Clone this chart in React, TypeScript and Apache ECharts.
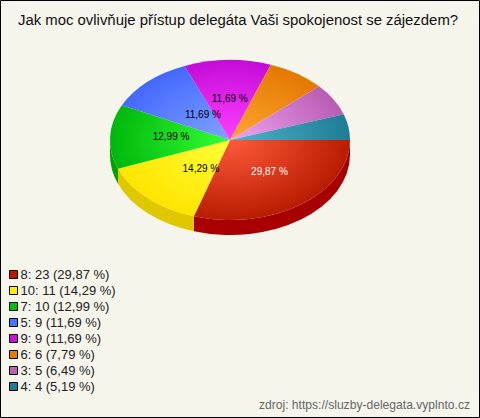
import React, { useEffect, useRef } from "react";
import * as echarts from "echarts";

const TITLE = "Jak moc ovlivňuje přístup delegáta Vaši spokojenost se zájezdem?";
const SOURCE = "zdroj: https://sluzby-delegata.vyplnto.cz";
const categories = ["8", "10", "7", "5", "9", "6", "3", "4"];
const counts = [23, 11, 10, 9, 9, 6, 5, 4];
const percents = ["29,87", "14,29", "12,99", "11,69", "11,69", "7,79", "6,49", "5,19"];
const edgeColors = ["#b81c00", "#ffe400", "#00b80c", "#4468ff", "#c40cd8", "#e47800", "#b85cb4", "#1f7c96"];
const midColors = ["#ff5a3c", "#ffff38", "#34ff34", "#80a4ff", "#ff40ff", "#ffa834", "#f0a4f0", "#50b4cc"];
const wallColors = ["#a80000", "#e0c800", "#00a000", "#3050c0", "#9000a0", "#b06000", "#904090", "#105c70"];
const legendFill = ["#c01800", "#ffee00", "#00c010", "#4c70ff", "#cc10d8", "#e87c00", "#bc60b8", "#1f7c96"];
const labelled = [true, true, true, true, true, false, false, false];
const labelNudge = [[4, -1], [12, -1], [1, -2], [14, 4], [1, -2], [0, 0], [0, 0], [0, 0]];

const CX = 230, CY = 140, RX = 120, RY = 80, DEPTH = 15;

export default function App() {
  const ref = useRef<HTMLDivElement>(null);
  useEffect(() => {
    document.body.style.margin = "0";
    const chart = echarts.init(ref.current!, undefined, { renderer: "svg" });
    const total = counts.reduce((a, b) => a + b, 0);
    let acc = 0;
    const starts = counts.map((c) => {
      const s = acc;
      acc += c;
      return s;
    });
    const names = categories.map((c, i) => `${c}: ${counts[i]} (${percents[i]} %)`);
    const series = categories.map((_, i) => ({
      type: "custom",
      name: names[i],
      coordinateSystem: "none",
      itemStyle: { color: legendFill[i] },
      data: [[counts[i]]],
      renderItem: (_p: any, api: any) => {
        const a0 = (starts[i] / total) * Math.PI * 2;
        const a1 = a0 + (api.value(0) / total) * Math.PI * 2;
        const children: any[] = [];
        if (a0 < Math.PI) {
          const e = Math.min(a1, Math.PI);
          const x1 = CX + RX * Math.cos(a0), y1 = CY + RY * Math.sin(a0);
          const x2 = CX + RX * Math.cos(e), y2 = CY + RY * Math.sin(e);
          children.push({
            type: "path",
            shape: {
              pathData: `M${x1} ${y1}A${RX} ${RY} 0 0 1 ${x2} ${y2}L${x2} ${y2 + DEPTH}A${RX} ${RY} 0 0 0 ${x1} ${y1 + DEPTH}Z`,
            },
            style: { fill: wallColors[i] },
          });
        }
        children.push({
          type: "sector",
          x: CX,
          y: CY,
          scaleY: RY / RX,
          shape: { cx: 0, cy: 0, r: RX, r0: 0, startAngle: a0, endAngle: a1, clockwise: true },
          style: {
            fill: {
              type: "radial",
              x: 0,
              y: 0,
              r: RX,
              global: true,
              colorStops: [
                { offset: 0, color: midColors[i] },
                { offset: 1, color: edgeColors[i] },
              ],
            },
          },
        });
        if (labelled[i]) {
          const m = (a0 + a1) / 2;
          children.push({
            type: "text",
            z2: 100,
            style: {
              x: CX + 0.5 * RX * Math.cos(m) + labelNudge[i][0],
              y: CY + 0.5 * RY * Math.sin(m) + labelNudge[i][1],
              text: `${percents[i]} %`,
              fill: i === 0 ? "#ffffff" : "#000000",
              font: "10px 'Liberation Sans', Arial, sans-serif",
              align: "center",
              verticalAlign: "middle",
            },
          });
        }
        return { type: "group", children };
      },
    }));
    chart.setOption({
      animation: false,
      backgroundColor: "#f5f5ec",
      title: [
        {
          text: TITLE,
          left: 18,
          top: 12,
          padding: 0,
          textStyle: { fontFamily: "'Liberation Sans', Arial, sans-serif", fontSize: 14.9, fontWeight: "normal", color: "#111111" },
        },
        {
          text: SOURCE,
          right: 10,
          top: 399,
          padding: 0,
          textStyle: { fontFamily: "'Liberation Sans', Arial, sans-serif", fontSize: 12.1, fontWeight: "normal", color: "#666666" },
        },
      ],
      legend: {
        orient: "vertical",
        left: 9,
        top: 268,
        padding: 0,
        itemWidth: 8,
        itemHeight: 8,
        itemGap: 3,
        icon: "rect",
        selectedMode: false,
        data: names,
        itemStyle: { borderColor: "#000000", borderWidth: 1 },
        textStyle: { fontFamily: "'Liberation Sans', Arial, sans-serif", fontSize: 13, lineHeight: 13, color: "#222222", padding: [0, 0, 0, -2] },
      },
      graphic: [
        {
          type: "rect",
          silent: true,
          shape: { x: 0.5, y: 0.5, width: 479, height: 417 },
          style: { fill: "none", stroke: "#000000", lineWidth: 1 },
        },
      ],
      series,
    });
    return () => chart.dispose();
  }, []);
  return <div ref={ref} style={{ width: 480, height: 418 }} />;
}
